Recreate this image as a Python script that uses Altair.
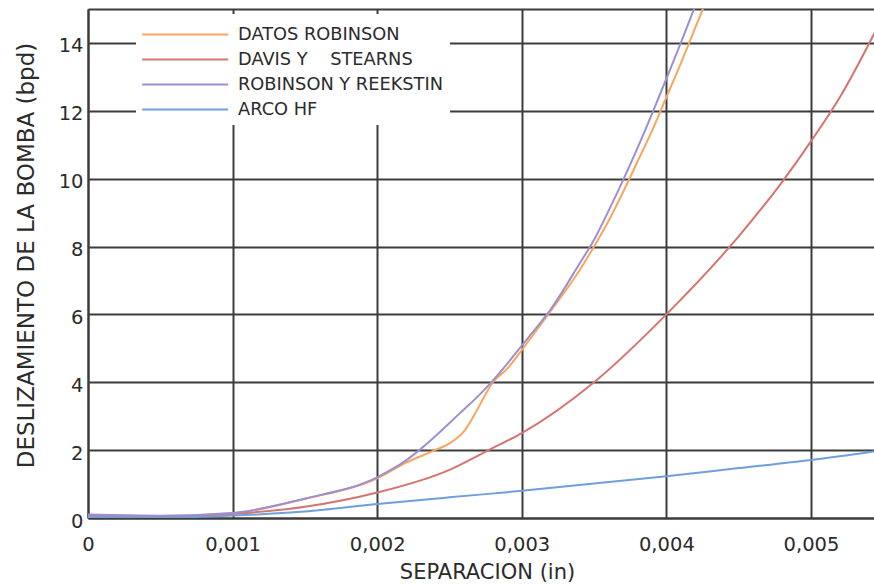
import altair as alt
import pandas as pd

# ---- data ----
series_names = ["DATOS ROBINSON", "DAVIS Y\u00a0\u00a0\u00a0 STEARNS", "ROBINSON Y REEKSTIN", "ARCO HF"]
series_colors = ["#f8a65e", "#d6746f", "#9d8fd0", "#6f9fdc"]

x_datos = [0, 0.0005, 0.001, 0.0015, 0.002, 0.0022, 0.0024, 0.0025, 0.0026, 0.00268, 0.00275,
           0.0028, 0.0029, 0.003, 0.0032, 0.0034, 0.0035, 0.0036, 0.0037, 0.0038, 0.0039,
           0.004, 0.0041, 0.0042, 0.0043, 0.0044]
y_datos = [0.08, 0.05, 0.14, 0.57, 1.17, 1.63, 2.0, 2.2, 2.55, 3.1, 3.65,
           4.0, 4.4, 4.95, 6.1, 7.3, 8.0, 8.75, 9.6, 10.5, 11.4,
           12.4, 13.4, 14.45, 15.5, 16.6]

x_davis = [0, 0.0005, 0.001, 0.0015, 0.002, 0.0025, 0.00277, 0.003, 0.0035, 0.004, 0.0045,
           0.0048, 0.005, 0.0052, 0.0055]
y_davis = [0.06, 0.04, 0.12, 0.33, 0.75, 1.42, 2.0, 2.5, 4.0, 6.0, 8.3,
           9.9, 11.1, 12.4, 14.8]

x_reek = [0, 0.0005, 0.001, 0.0015, 0.002, 0.0021, 0.0022, 0.0023, 0.0024, 0.0025, 0.0026,
          0.0027, 0.0028, 0.0029, 0.003, 0.0031, 0.0032, 0.0034, 0.0035, 0.0036, 0.0037,
          0.0038, 0.0039, 0.004, 0.0041, 0.0042, 0.0043]
y_reek = [0.1, 0.07, 0.15, 0.57, 1.2, 1.43, 1.7, 2.03, 2.4, 2.8, 3.2,
          3.6, 4.05, 4.55, 5.08, 5.6, 6.15, 7.5, 8.2, 9.05, 9.95,
          10.9, 11.9, 12.95, 14.0, 15.1, 16.2]

x_arco = [0, 0.0005, 0.001, 0.0015, 0.002, 0.0025, 0.003, 0.0035, 0.004, 0.0045, 0.005, 0.0055]
y_arco = [0.02, 0.01, 0.07, 0.19, 0.41, 0.61, 0.80, 1.02, 1.23, 1.47, 1.71, 2.0]

x_ticks = [0, 0.001, 0.002, 0.003, 0.004, 0.005]
y_ticks = [0, 2, 4, 6, 8, 10, 12, 14, 15]

rows = []
for name, xs, ys in zip(series_names,
                        [x_datos, x_davis, x_reek, x_arco],
                        [y_datos, y_davis, y_reek, y_arco]):
    for i, (xv, yv) in enumerate(zip(xs, ys)):
        rows.append({"serie": name, "sep": xv, "desl": yv, "ord": i})
df = pd.DataFrame(rows)

FONT = "DejaVu Sans"
DARK = "#2b2b2b"
GRID = "#3c3c3c"

chart = alt.Chart(df).mark_line(clip=True, strokeWidth=2, interpolate="monotone").encode(
    x=alt.X("sep:Q",
            scale=alt.Scale(domain=[0, 0.005436], nice=False, zero=False),
            axis=alt.Axis(values=x_ticks,
                          labelExpr="datum.value == 0 ? '0' : replace(format(datum.value, '.3f'), '.', ',')",
                          title="SEPARACION (in)",
                          ticks=False, labelPadding=17, labelFont=FONT, labelFontSize=19.5,
                          labelColor=DARK, labelFlush=False, labelOverlap=False,
                          grid=True, gridColor=GRID, gridWidth=2, gridOpacity=1,
                          domainColor=GRID, domainWidth=2,
                          titleFont=FONT, titleFontSize=21, titleFontWeight="normal",
                          titleColor=DARK, titleX=399, titleY=60, titleAlign="center",
                          titleBaseline="alphabetic")),
    y=alt.Y("desl:Q",
            scale=alt.Scale(domain=[0, 15], nice=False, zero=False),
            axis=alt.Axis(values=y_ticks,
                          labelExpr="datum.value == 15 ? '' : datum.label",
                          title="DESLIZAMIENTO DE LA BOMBA  (bpd)",
                          ticks=False, labelPadding=5, labelFont=FONT, labelFontSize=19.5,
                          labelColor=DARK, labelOffset=3, labelFlush=False, labelOverlap=False,
                          grid=True, gridColor=GRID, gridWidth=2, gridOpacity=1,
                          domainColor=GRID, domainWidth=2,
                          titleFont=FONT, titleFontSize=23, titleFontWeight="normal",
                          titleColor=DARK, titleAngle=270, titleX=-55, titleY=246,
                          titleAlign="center", titleBaseline="alphabetic")),
    color=alt.Color("serie:N",
                    scale=alt.Scale(domain=series_names, range=series_colors),
                    legend=alt.Legend(orient="none", legendX=48, legendY=5, title=None,
                                      symbolType="M-1,0L5,0", symbolSize=822, symbolStrokeWidth=2,
                                      labelFont=FONT, labelFontSize=17.8, labelColor=DARK,
                                      labelLimit=400, labelOffset=66, fillColor="white",
                                      padding=5, rowPadding=-1, strokeColor="white")),
    order="ord:Q",
).properties(
    width=786, height=509,
    padding={"left": 88, "top": 9, "right": 0, "bottom": 68},
    autosize=alt.AutoSizeParams(type="none"),
).configure_view(stroke=None).configure(background="white")

chart.save("out.html", embed_options={"renderer": "svg", "actions": False})
